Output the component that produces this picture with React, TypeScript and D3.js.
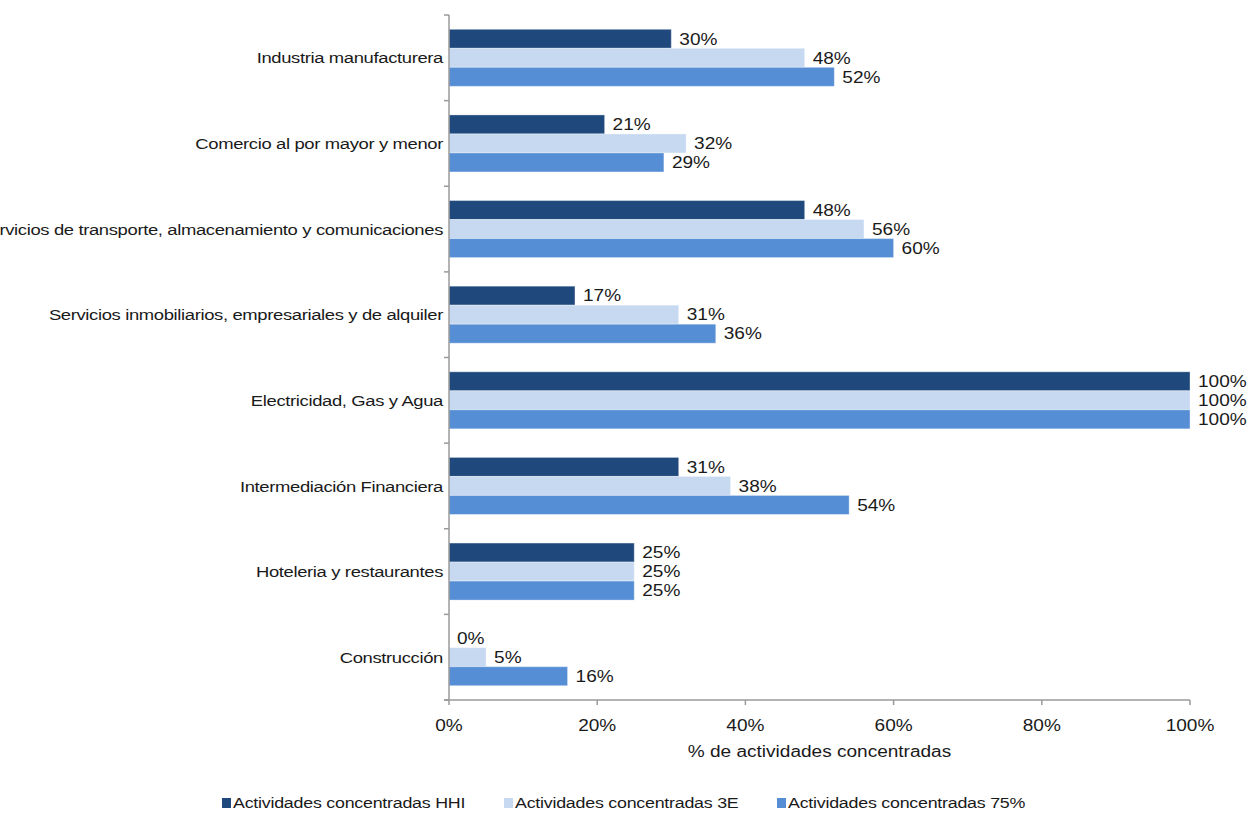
import React, { useEffect, useRef } from 'react';
import * as d3 from 'd3';

const categories = [
  'Industria manufacturera',
  'Comercio al por mayor y menor',
  'Servicios de transporte, almacenamiento y comunicaciones',
  'Servicios inmobiliarios, empresariales y de alquiler',
  'Electricidad, Gas y Agua',
  'Intermediación Financiera',
  'Hoteleria y restaurantes',
  'Construcción',
];

const seriesNames = [
  'Actividades concentradas HHI',
  'Actividades concentradas 3E',
  'Actividades concentradas 75%',
];

const hhiValues = [30, 21, 48, 17, 100, 31, 25, 0];
const e3Values = [48, 32, 56, 31, 100, 38, 25, 5];
const p75Values = [52, 29, 60, 36, 100, 54, 25, 16];

const seriesColors = ['#1f497d', '#c6d9f1', '#558ed5'];

const xTicks = [0, 20, 40, 60, 80, 100];
const xTitle = '% de actividades concentradas';

const WIDTH = 1247;
const HEIGHT = 813;
const FONT = '"Liberation Sans", Arial, sans-serif';
// the source text is drawn slightly stretched horizontally
const SX = 1.19;

const App: React.FC = () => {
  const ref = useRef<SVGSVGElement>(null);

  useEffect(() => {
    if (!ref.current) return;
    const svg = d3.select(ref.current);
    svg.selectAll('*').remove();

    const left = 449;
    const right = 1190;
    const top = 15;
    const bottom = 700;

    const x = d3.scaleLinear().domain([0, 100]).range([left, right]);
    const y = d3.scaleBand<string>()
      .domain(categories)
      .range([top, bottom])
      .paddingInner(0.334)
      .paddingOuter(0.167);
    const inner = d3.scaleBand<number>()
      .domain([0, 1, 2])
      .range([0, y.bandwidth()]);

    const place = (px: number, py: number) => `translate(${px},${py}) scale(${SX},1)`;

    const allSeries = [hhiValues, e3Values, p75Values];
    const g = svg.append('g');

    // bars
    allSeries.forEach((vals, si) => {
      g.append('g')
        .selectAll('rect')
        .data(vals)
        .enter().append('rect')
        .attr('x', x(0))
        .attr('y', (_, i) => (y(categories[i]) as number) + (inner(si) as number))
        .attr('width', d => x(d) - x(0))
        .attr('height', inner.bandwidth())
        .attr('fill', seriesColors[si])
        .attr('stroke', '#ffffff')
        .attr('stroke-opacity', 0.35)
        .attr('stroke-width', 1);

      g.append('g')
        .selectAll('text')
        .data(vals)
        .enter().append('text')
        .attr('transform', (d, i) => place(
          x(d) + 8,
          (y(categories[i]) as number) + (inner(si) as number) + inner.bandwidth() / 2,
        ))
        .attr('dy', '0.36em')
        .attr('font-family', FONT)
        .attr('font-size', 16)
        .attr('fill', '#1a1a1a')
        .text(d => `${d}%`);
    });

    const axisColor = '#9a9a9a';

    // y axis line and ticks at band boundaries
    g.append('line')
      .attr('x1', left).attr('x2', left)
      .attr('y1', top).attr('y2', bottom)
      .attr('stroke', axisColor).attr('stroke-width', 1.5);
    const boundaries = d3.range(categories.length + 1).map(i => top + i * y.step());
    g.selectAll('.ytick')
      .data(boundaries)
      .enter().append('line')
      .attr('x1', left - 5).attr('x2', left)
      .attr('y1', d => d).attr('y2', d => d)
      .attr('stroke', axisColor).attr('stroke-width', 1.5);

    // category labels
    g.selectAll('.cat')
      .data(categories)
      .enter().append('text')
      .attr('transform', d => place(left - 6, (y(d) as number) + y.bandwidth() / 2))
      .attr('dy', '0.36em')
      .attr('text-anchor', 'end')
      .attr('font-family', FONT)
      .attr('font-size', 15.5)
      .attr('letter-spacing', -0.3)
      .attr('fill', '#1a1a1a')
      .text(d => d);

    // x axis
    g.append('line')
      .attr('x1', left - 5).attr('x2', right)
      .attr('y1', bottom).attr('y2', bottom)
      .attr('stroke', axisColor).attr('stroke-width', 1.5);
    g.selectAll('.xtick')
      .data(xTicks)
      .enter().append('line')
      .attr('x1', d => x(d)).attr('x2', d => x(d))
      .attr('y1', bottom).attr('y2', bottom + 5)
      .attr('stroke', axisColor).attr('stroke-width', 1.5);
    g.selectAll('.xlabel')
      .data(xTicks)
      .enter().append('text')
      .attr('transform', d => place(x(d), bottom + 25))
      .attr('dy', '0.36em')
      .attr('text-anchor', 'middle')
      .attr('font-family', FONT)
      .attr('font-size', 16)
      .attr('fill', '#1a1a1a')
      .text(d => `${d}%`);

    g.append('text')
      .attr('transform', place((left + right) / 2, bottom + 51))
      .attr('dy', '0.36em')
      .attr('text-anchor', 'middle')
      .attr('font-family', FONT)
      .attr('font-size', 16)
      .attr('fill', '#1a1a1a')
      .text(xTitle);

    // legend
    const legendX = [222, 504, 777];
    const legendY = 803;
    const legend = g.selectAll('.legend')
      .data(seriesNames)
      .enter().append('g')
      .attr('transform', (_, i) => `translate(${legendX[i]},${legendY})`);
    legend.append('rect')
      .attr('x', 0).attr('y', -5)
      .attr('width', 9).attr('height', 10)
      .attr('fill', (_, i) => seriesColors[i]);
    legend.append('text')
      .attr('transform', place(11, 0))
      .attr('dy', '0.36em')
      .attr('font-family', FONT)
      .attr('font-size', 15)
      .attr('letter-spacing', -0.2)
      .attr('fill', '#1a1a1a')
      .text(d => d);
  }, []);

  return (
    <svg
      ref={ref}
      width={WIDTH}
      height={HEIGHT}
      viewBox={`0 0 ${WIDTH} ${HEIGHT}`}
      style={{ position: 'absolute', left: 0, top: 0, background: '#ffffff' }}
    />
  );
};

export default App;
